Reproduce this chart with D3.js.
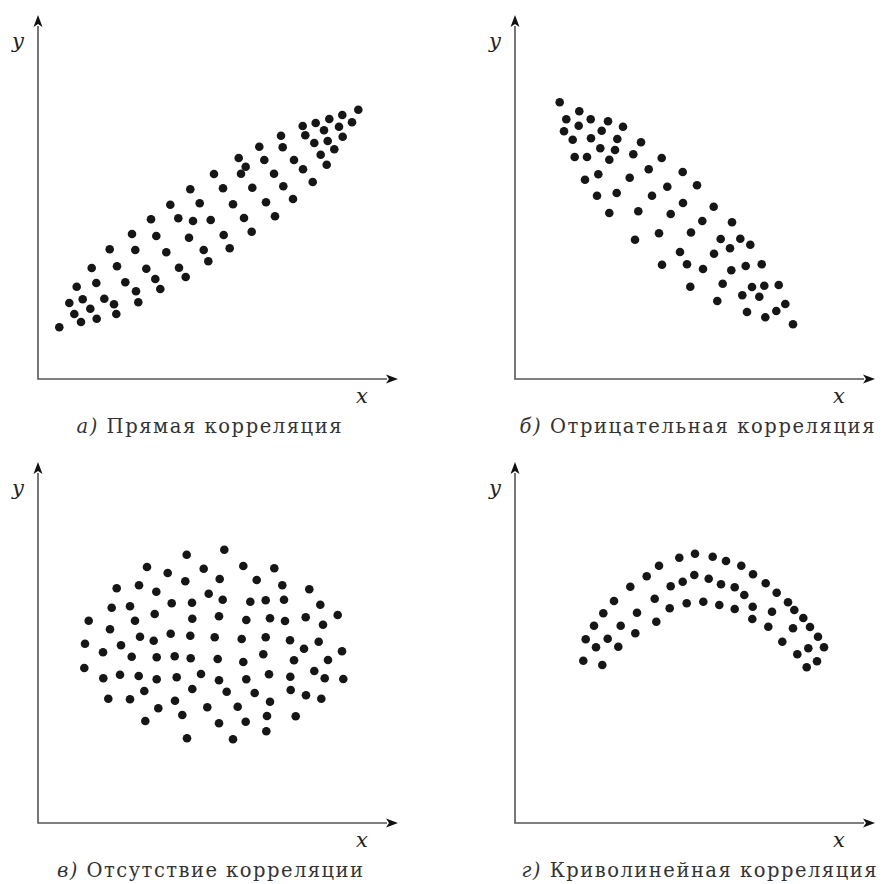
<!DOCTYPE html>
<html><head><meta charset="utf-8">
<script src="https://cdn.jsdelivr.net/npm/d3@7"></script>
<style>body{margin:0;background:#fff}svg{display:block}</style>
</head><body>
<script>
// Panel captions
const captionLetters = ["а)", "б)", "в)", "г)"];
const captionTexts = [" Прямая корреляция", " Отрицательная корреляция", " Отсутствие корреляции", " Криволинейная корреляция"];
const axisLabelX = "x";
const axisLabelY = "y";

// а) direct correlation [x, y]
const pointsA = [
[176,205],[152.3,189.7],[132.3,174.3],[161.7,175.7],[113,159.7],[140.3,160.7],[155,158],[172.7,159],
[94,145],[118.3,143],[151,141.3],[71.7,129.7],[97.3,129],[128.3,126.7],[165.7,129],[170.3,117.7],
[53.7,111],[79,112.7],[108.3,110.3],[141,111.3],[147.7,102],[117.3,100],[122.3,90],[58.3,96],
[87.3,96.7],[38.7,92.3],[98,87.7],[100.3,76.7],[66.3,80.3],[44.7,79.7],[31.3,76],[76,74.7],
[52.3,70.3],[36.3,65],[78.3,65],[58.7,60.3],[43,57],[21.3,51.7],
[320.3,269.3],[304.3,264],[291.3,260],[277.7,256],[264.7,253],[314,256.7],[301,252.3],[286,248.7],
[267.3,243.7],[304.7,242.3],[289.7,238],[276.3,236],[243,243.3],[244.7,231.7],[221.3,232.3],[296.3,229.7],
[282.7,224.3],[200.7,221],[226.3,219],[256,219],[288.7,214.3],[207.7,212.3],[265,209.7],[203,205.3],
[236,205.3],[274.7,197],[185,190.7],[214.3,191.3],[245.3,192.7],[195,174.7],[228,176.7],[255,180],
[206,161],[237,162.7],[185.7,144],[213.7,147.3],[191.7,130.7]
];
// б) negative correlation
const pointsB = [
[44.7,276.7],[64.3,267.7],[51.3,259.7],[75.7,259.7],[93,257.7],[63.7,253.3],[108,252.3],[49,247.7],
[86.7,248.3],[57.7,239.3],[76,240.7],[102.3,240],[126,236.7],[85.3,230.7],[100,229],[59.7,222],
[72,222],[94.3,219.3],[118.3,224.7],[146.7,221],[83.3,204.7],[70,199.3],[114.7,201.3],[133.7,209.7],
[167.7,207],[82,183.3],[101.7,186],[137,183.3],[152.3,192.3],[168,176],[94.3,166],[123.3,167.7],
[155.7,165],[120,139.3],[144,145.7],[176,146.5],[165,127],
[182,193.7],[198.7,172.3],[187.3,158],[217,156.7],[205.7,140],[225.3,140.3],[235.3,134.3],[215,130.7],
[199,125.3],[147,114.3],[172,114.7],[188,110],[216.3,108.7],[230.7,113],[246.7,114.7],[175.3,92.3],
[207.7,95.3],[237,92],[249.3,93.3],[263.7,94],[227.3,83.7],[244.3,82.3],[270.3,75],[202.3,78],
[232,67],[261.3,68],[250.3,61.7],[278,54.7]
];
// в) no correlation
const pointsC = [
[148.7,268.3],[109,256],[129.7,250],[165.7,254.3],[147.3,241.7],[181.7,244],[78.7,234.7],[101,237.7],
[118.3,231.3],[170.7,229.3],[73.7,215.3],[92,216.7],[133.7,219.7],[154,220.3],[116.7,209],[50.7,202.3],
[97,202.3],[154.3,204.3],[72,193.7],[102,186.3],[115.7,182.3],[132.7,189.3],[152.3,187.3],[176.7,185.7],
[47,179.3],[83,177.7],[65,170.7],[93.7,166.3],[118.7,165.7],[136.7,166.7],[152.7,164.7],[179.7,164],
[46.3,155],[65.3,144.7],[82,148.3],[100.7,147],[118.7,143.7],[138.7,145.7],[163,149],[181,142.7],
[106.3,132],[154.3,134],[70.3,124.3],[92,123.7],[137,122.3],[120.3,114.7],[169.3,115.7],[144.3,108],
[107.3,102],[181,99.7],[149,84.7],
[186.3,273.3],[205.3,257],[236.3,254.7],[218.7,243],[244.3,237.7],[271.3,233.7],[184.7,223.3],[212.3,221.3],
[227.7,222.7],[246,223.3],[282.3,218.3],[181,206.7],[208.3,203],[232,204.7],[247,202],[267.7,205.7],
[285,198.3],[299.7,208],[203.7,184],[227.7,185.7],[252,182.7],[266,174.3],[280.7,181.3],[304,171.7],
[205.3,161],[225.3,168.7],[256,162.7],[290,163],[208.3,143.7],[231,148.7],[252.3,146.3],[276.3,152],
[286.7,144.7],[305.3,144],[188.7,131.3],[216.7,130],[252.7,133],[268,127.7],[283.3,124.3],[232,121.3],
[199.7,116.3],[229,107],[257.7,106.7],[207.7,101.3],[228.3,91.7],[195,83.7]
];
// г) curvilinear correlation
const pointsD = [
[68.3,162.3],[70.7,183.7],[79,197.3],[88.3,209.7],[99,222],[115.3,236.3],[131.7,246.7],[144,257.3],
[164.3,265.3],[180,269.3],[197.7,266.3],[211,262],[226.3,257.3],[238,248.7],[250.7,239.7],[261.7,230.3],
[273,220.7],[279.3,213],[288.3,205],[295,196],[303,186.3],[309,175.7],[302,161.7],
[87.3,158],[81,175.7],[92.7,184.3],[105.7,197.3],[122,210.3],[139.7,224.3],[155.7,236.7],[167.7,241.3],
[179.3,248],[193.7,244.3],[206,238.7],[219.7,235.7],[229.3,228],[237.7,216.3],[257,211.3],[278,194.7],
[293.3,174.7],[291.7,155.7],
[103.3,176.3],[120.3,189.7],[141.3,201.3],[154.7,214.7],[171.7,219.7],[188.3,221.3],[204.3,218],[219.7,214],
[237.3,204],[253.3,196.3],[267.3,181.3],[282.3,168.7]
];

const W = 885, H = 884;
const svg = d3.select("body").append("svg").attr("width", W).attr("height", H);

const panels = [
  {pts: pointsA, ox: 38,  oy: 379, ylen: 364, cx: 209, cy: 433, tl: 265},
  {pts: pointsB, ox: 515, oy: 379, ylen: 364, cx: 697, cy: 433, tl: 355},
  {pts: pointsC, ox: 38,  oy: 823, ylen: 361, cx: 210, cy: 877, tl: 306},
  {pts: pointsD, ox: 515, oy: 823, ylen: 361, cx: 699, cy: 877, tl: 355}
];
const XLEN = 360;
const serif = "'DejaVu Serif', 'Liberation Serif', serif";

panels.forEach((p, i) => {
  const x = d3.scaleLinear().domain([0, XLEN]).range([p.ox, p.ox + XLEN]);
  const y = d3.scaleLinear().domain([0, p.ylen]).range([p.oy, p.oy - p.ylen]);
  const g = svg.append("g");
  const ah = 12, aw = 4.5;
  g.append("path")
    .attr("d", `M${x(0)},${y(p.ylen) + ah - 1}L${x(0)},${y(0)}L${x(XLEN) - ah + 1},${y(0)}`)
    .attr("fill", "none").attr("stroke", "#555").attr("stroke-width", 1.6);
  g.append("path")
    .attr("d", `M${x(0)},${y(p.ylen)}L${x(0) - aw},${y(p.ylen) + ah}L${x(0)},${y(p.ylen) + ah - 3}L${x(0) + aw},${y(p.ylen) + ah}Z`)
    .attr("fill", "#111");
  g.append("path")
    .attr("d", `M${x(XLEN)},${y(0)}L${x(XLEN) - ah},${y(0) - aw}L${x(XLEN) - ah + 3},${y(0)}L${x(XLEN) - ah},${y(0) + aw}Z`)
    .attr("fill", "#111");
  g.append("text").attr("x", x(0) - 20).attr("y", y(p.ylen) + 33)
    .attr("font-family", serif).attr("font-style", "italic").attr("font-size", 21)
    .attr("fill", "#222").attr("text-anchor", "middle").text(axisLabelY);
  g.append("text").attr("x", x(XLEN) - 36).attr("y", y(0) + 24)
    .attr("font-family", serif).attr("font-style", "italic").attr("font-size", 21)
    .attr("fill", "#222").attr("text-anchor", "middle").text(axisLabelX);
  g.selectAll("circle").data(p.pts).join("circle")
    .attr("cx", d => x(d[0])).attr("cy", d => y(d[1])).attr("r", 4.3)
    .attr("fill", "#161616");
  const t = g.append("text").attr("x", p.cx).attr("y", p.cy)
    .attr("font-family", serif).attr("font-size", 19.5).attr("fill", "#333")
    .attr("text-anchor", "middle").attr("textLength", p.tl).attr("lengthAdjust", "spacing");
  t.append("tspan").attr("font-style", "italic").text(captionLetters[i]);
  t.append("tspan").text(captionTexts[i]);
});
</script>
</body></html>
